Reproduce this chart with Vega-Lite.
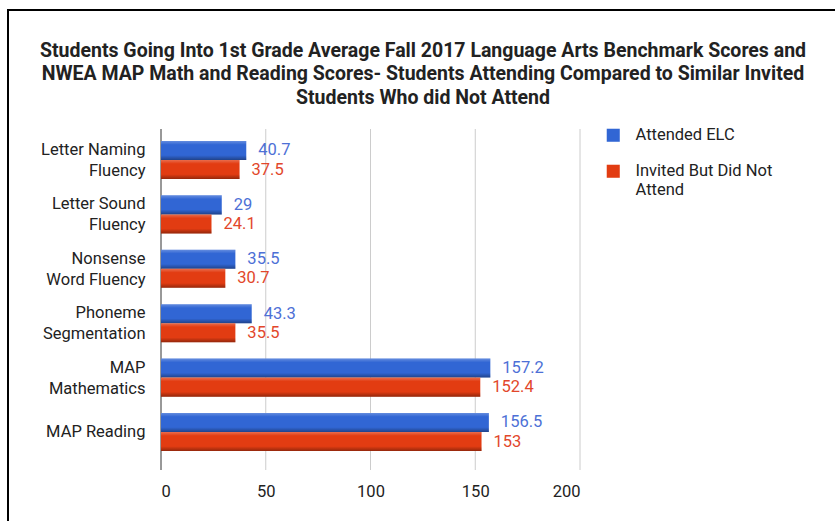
{
  "$schema": "https://vega.github.io/schema/vega-lite/v6.json",
  "autosize": "none",
  "padding": {"left": 8, "top": 10, "right": 0, "bottom": 0},
  "width": 830,
  "height": 520,
  "background": "white",
  "config": {
    "view": {"stroke": "#000000", "strokeWidth": 2, "fill": "white"},
    "font": "Roboto"
  },
  "title": {
    "text": ["Students Going Into 1st Grade Average Fall 2017 Language Arts Benchmark Scores and", "NWEA MAP Math and Reading Scores- Students Attending Compared to Similar Invited", "Students Who did Not Attend"],
    "anchor": "middle",
    "frame": "group",
    "baseline": "top",
    "offset": 0,
    "dy": 98,
    "fontSize": 19.5,
    "fontWeight": "bold",
    "font": "Roboto",
    "color": "#222222",
    "lineHeight": 23.5
  },
  "datasets": {
    "scores": [
      {"category": "Letter Naming Fluency", "series": "Attended ELC", "value": 40.7},
      {"category": "Letter Naming Fluency", "series": "Invited But Did Not Attend", "value": 37.5},
      {"category": "Letter Sound Fluency", "series": "Attended ELC", "value": 29},
      {"category": "Letter Sound Fluency", "series": "Invited But Did Not Attend", "value": 24.1},
      {"category": "Nonsense Word Fluency", "series": "Attended ELC", "value": 35.5},
      {"category": "Nonsense Word Fluency", "series": "Invited But Did Not Attend", "value": 30.7},
      {"category": "Phoneme Segmentation", "series": "Attended ELC", "value": 43.3},
      {"category": "Phoneme Segmentation", "series": "Invited But Did Not Attend", "value": 35.5},
      {"category": "MAP Mathematics", "series": "Attended ELC", "value": 157.2},
      {"category": "MAP Mathematics", "series": "Invited But Did Not Attend", "value": 152.4},
      {"category": "MAP Reading", "series": "Attended ELC", "value": 156.5},
      {"category": "MAP Reading", "series": "Invited But Did Not Attend", "value": 153}
    ],
    "gridlines": [{"tick": 50}, {"tick": 100}, {"tick": 150}, {"tick": 200}],
    "baseline": [{"tick": 0}]
  },
  "resolve": {"scale": {"y": "independent"}},
  "layer": [
    {
      "layer": [
        {
          "data": {"name": "gridlines"},
          "mark": {"type": "rule", "color": "#cccccc", "strokeWidth": 1},
          "encoding": {
            "x": {"field": "tick", "type": "quantitative", "scale": {"domain": [0, 200], "range": [153, 572], "nice": false, "zero": true}},
            "y": {"datum": 0, "type": "quantitative", "scale": {"domain": [0, 1], "range": [119, 460]}, "axis": null},
            "y2": {"datum": 1}
          }
        },
        {
          "data": {"name": "baseline"},
          "mark": {"type": "rule", "color": "#333333", "strokeWidth": 1},
          "encoding": {
            "x": {"field": "tick", "type": "quantitative"},
            "y": {"datum": 0, "type": "quantitative"},
            "y2": {"datum": 1}
          }
        }
      ]
    },
    {
      "data": {"name": "scores"},
      "encoding": {
        "y": {
          "field": "category",
          "type": "nominal",
          "sort": ["Letter Naming Fluency", "Letter Sound Fluency", "Nonsense Word Fluency", "Phoneme Segmentation", "MAP Mathematics", "MAP Reading"],
          "scale": {"range": [122.8, 449.2], "paddingInner": 0.3, "paddingOuter": 0.15},
          "axis": {
            "title": null,
            "orient": "left",
            "offset": -137,
            "labelPadding": 0,
            "domain": false,
            "ticks": false,
            "labelFont": "Roboto",
            "labelFontSize": 16.5,
            "labelColor": "#222222",
            "labelLineHeight": 21,
            "labelLimit": 300,
            "labelOffset": {"condition": {"test": "datum.value == 'MAP Reading'", "value": 0}, "value": -10},
            "labelExpr": "datum.label == 'Letter Naming Fluency' ? ['Letter Naming','Fluency'] : datum.label == 'Letter Sound Fluency' ? ['Letter Sound','Fluency'] : datum.label == 'Nonsense Word Fluency' ? ['Nonsense','Word Fluency'] : datum.label == 'Phoneme Segmentation' ? ['Phoneme','Segmentation'] : datum.label == 'MAP Mathematics' ? ['MAP','Mathematics'] : datum.label"
          }
        },
        "yOffset": {"field": "series", "type": "nominal", "sort": ["Attended ELC", "Invited But Did Not Attend"], "scale": {"paddingInner": 0}},
        "x": {
          "field": "value",
          "type": "quantitative",
          "scale": {"domain": [0, 200], "range": [153, 572], "nice": false},
          "axis": {
            "title": null,
            "orient": "bottom",
            "offset": -50,
            "values": [0, 50, 100, 150, 200],
            "grid": false,
            "domain": false,
            "ticks": false,
            "labelPadding": 3,
            "labelFont": "Roboto",
            "labelFontSize": 16.5,
            "labelColor": "#222222"
          }
        }
      },
      "layer": [
        {
          "mark": {"type": "bar"},
          "encoding": {
            "color": {
              "field": "series",
              "type": "nominal",
              "scale": {"domain": ["Attended ELC", "Invited But Did Not Attend"], "range": ["#3166d4", "#e23c12"]},
              "legend": {
                "title": null,
                "orient": "none",
                "legendX": 597,
                "legendY": 117,
                "symbolType": "square",
                "symbolSize": 170,
                "symbolStrokeWidth": 0,
                "labelFont": "Roboto",
                "labelFontSize": 16.5,
                "labelColor": "#222222",
                "labelOffset": 14,
                "labelLimit": 300,
                "rowPadding": 19,
                "labelLineHeight": 21,
                "labelExpr": "datum.label == 'Invited But Did Not Attend' ? ['Invited But Did Not', 'Attend'] : datum.label"
              }
            }
          }
        },
        {
          "mark": {
            "type": "bar",
            "fill": {
              "gradient": "linear", "x1": 0, "y1": 0, "x2": 0, "y2": 1,
              "stops": [
                {"offset": 0, "color": "rgba(255,255,255,0.25)"},
                {"offset": 0.2, "color": "rgba(255,255,255,0)"},
                {"offset": 0.75, "color": "rgba(0,0,0,0)"},
                {"offset": 1, "color": "rgba(0,0,0,0.35)"}
              ]
            }
          }
        },
        {
          "mark": {"type": "text", "align": "left", "baseline": "middle", "dx": 12, "font": "Roboto", "fontSize": 16.5},
          "encoding": {
            "text": {"field": "value", "type": "quantitative"},
            "color": {"condition": {"test": "datum.series == 'Attended ELC'", "value": "#4d70d6"}, "value": "#e2472b"}
          }
        }
      ]
    }
  ]
}
